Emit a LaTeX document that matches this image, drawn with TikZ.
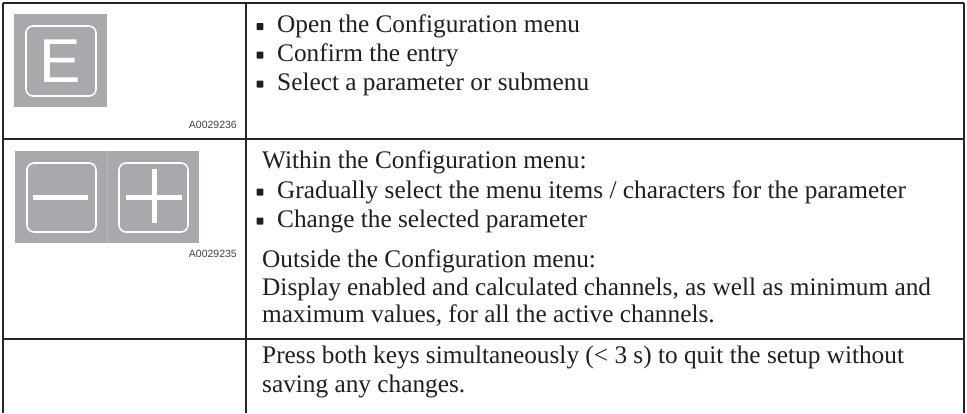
\documentclass[tikz,border=0pt]{standalone}
\usepackage{fontspec}
\setmainfont{Liberation Serif}
\newfontfamily\labelfont{Liberation Sans}
\newfontfamily\keyfont{Liberation Sans}
\definecolor{keygray}{HTML}{A7A9AC}
\begin{document}
\begin{tikzpicture}[x=1pt,y=-1pt,
  rule/.style={line width=1.2pt, draw=black!85},
  txt/.style={anchor=base west, inner sep=0pt, font=\fontsize{25.3}{30}\selectfont, text=black!88},
  code/.style={anchor=base east, inner sep=0pt, font=\labelfont\fontsize{10.5}{12}\selectfont, text=black!75},
  bulletbox/.style={fill=black!88, minimum width=6.8pt, minimum height=7pt, inner sep=0pt, anchor=center, rounded corners=0.8pt},
  keybg/.style={fill=keygray},
  keyframe/.style={draw=white, line width=1.6pt, rounded corners=7pt},
  keybar/.style={draw=white, line width=5pt}]
\useasboundingbox (0,0) rectangle (967,413);

% table rules
\draw[rule] (3,3) -- (964,3);
\draw[rule] (3,3) -- (3,413);
\draw[rule] (964,3) -- (964,413);
\draw[rule] (246,3) -- (246,413);
\draw[rule] (3,139) -- (964,139);
\draw[rule] (3,339) -- (964,339);

% E key
\fill[keybg] (14,14) rectangle (107,107);
\draw[keyframe] (26,26) rectangle (96,96);
\node[text=white, font=\keyfont\fontsize{62}{62}\selectfont, inner sep=0pt] (ekey) at (60.5,61) {E};
\node[code] (code1) at (237,128) {A0029236};

% minus / plus keys
\fill[keybg] (15,151) rectangle (199,243);
\draw[keygray!80!white, line width=0.5pt] (107,151) -- (107,243);
\draw[keyframe] (27,163) rectangle (96,232);
\draw[keyframe] (119,163) rectangle (188,232);
\draw[keybar] (33,197) -- (88,197);
\draw[keybar] (126,197) -- (182,197);
\draw[keybar] (154,169) -- (154,223);
\node[code] (code2) at (237,257) {A0029235};

% row 1
\node[bulletbox] (b1) at (260,26.5) {};
\node[txt] (t1) at (277,32.5) {Open the Configuration menu};
\node[bulletbox] (b2) at (260,55) {};
\node[txt] (t2) at (277,61) {Confirm the entry};
\node[bulletbox] (b3) at (260,84) {};
\node[txt] (t3) at (277,90) {Select a parameter or submenu};

% row 2
\node[txt] (t4) at (262,168) {Within the Configuration menu:};
\node[bulletbox] (b4) at (260,192) {};
\node[txt] (t5) at (277,198) {Gradually select the menu items / characters for the parameter};
\node[bulletbox] (b5) at (260,221) {};
\node[txt] (t6) at (277,227) {Change the selected parameter};
\node[txt] (t7) at (262,267) {Outside the Configuration menu:};
\node[txt] (t8) at (262,295) {Display enabled and calculated channels, as well as minimum and};
\node[txt] (t9) at (262,322) {maximum values, for all the active channels.};

% row 3
\node[txt] (t10) at (262,363) {Press both keys simultaneously (< 3 s) to quit the setup without};
\node[txt] (t11) at (262,392) {saving any changes.};
\end{tikzpicture}
\end{document}
